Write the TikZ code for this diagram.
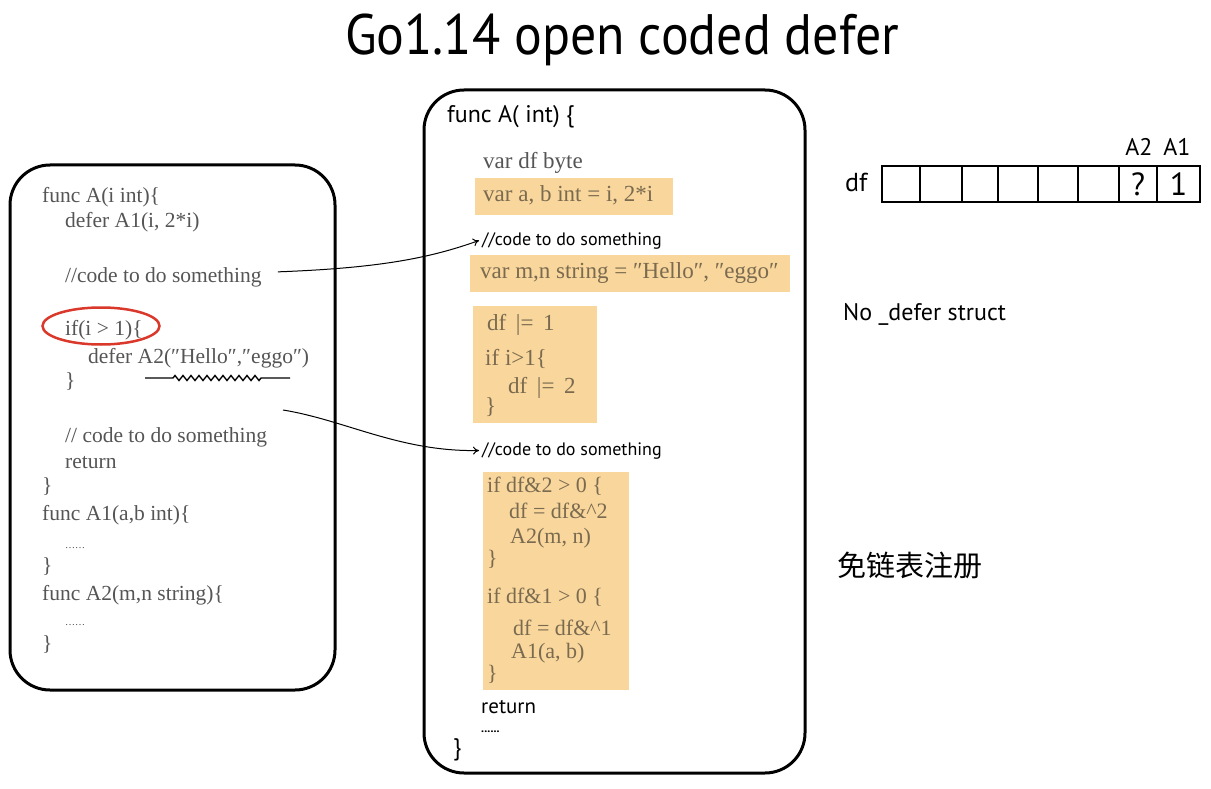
\documentclass[tikz,border=0pt]{standalone}
\usepackage{fontspec}
\setmainfont{Liberation Serif}
\newfontfamily\hw{PT Sans}
\newfontfamily\cjk{Noto Sans CJK SC}
\usetikzlibrary{arrows.meta,decorations.pathmorphing,shapes.geometric}
\definecolor{codegray}{HTML}{555555}
\definecolor{hl}{HTML}{F8D69C}
\definecolor{hltext}{HTML}{7A6A4F}
\definecolor{circ}{HTML}{D9382B}
\begin{document}
\begin{tikzpicture}[x=1pt,y=-1pt,
  lc/.style={anchor=base west, inner sep=0pt, font=\fontsize{21.5}{21.5}\selectfont, text=codegray},
  mc/.style={anchor=base west, inner sep=0pt, font=\fontsize{23}{23}\selectfont, text=codegray},
  hc/.style={anchor=base west, inner sep=0pt, font=\fontsize{23}{23}\selectfont, text=hltext},
  hc4/.style={anchor=base west, inner sep=0pt, font=\fontsize{22}{22}\selectfont, text=hltext},
  hand/.style={anchor=base west, inner sep=0pt, font=\hw\fontsize{18}{18}\selectfont},
  dots/.style={anchor=base west, inner sep=0pt, font=\fontsize{10}{10}\selectfont, text=codegray!80!black},
  frame/.style={draw, line width=3pt, rounded corners=40pt, inner sep=0pt},
  hlbox/.style={fill=hl},
  cell/.style={draw, line width=1.2pt, inner sep=0pt, minimum height=36pt},
  arr/.style={-{To[length=6pt,width=8pt]}, line width=1pt}
]
\fill[white] (0,0) rectangle (1211,789);
\useasboundingbox (0,0) rectangle (1211,789);

% title
\node[font=\hw\fontsize{57}{57}\selectfont, anchor=base, inner sep=0pt] (title) at (622,55) {\scalebox{0.91}[1]{Go1.14 open coded defer}};

% left box
\node[frame, minimum width=325pt, minimum height=525pt] (left) at (172.5,427.5) {};
\node[lc] (l1) at (42,203) {func A(i int)\{};
\node[lc] (l2) at (65,228) {defer A1(i, 2*i)};
\node[lc] (l3) at (65,282) {//code to do something};
\node[lc] (l4) at (65,335) {if(i > 1)\{};
\node[lc] (l5) at (88,363) {defer A2(″Hello″,″eggo″)};
\node[lc] (l6) at (65,387) {\}};
\node[lc] (l7) at (65,442) {// code to do something};
\node[lc] (l8) at (65,468) {return};
\node[lc] (l9) at (42,492) {\}};
\node[lc] (l10) at (42,520) {func A1(a,b int)\{};
\node[dots] (l11) at (65,548) {……};
\node[lc] (l12) at (42,572) {\}};
\node[lc] (l13) at (42,600) {func A2(m,n string)\{};
\node[dots] (l14) at (65,625) {……};
\node[lc] (l15) at (42,650) {\}};

\node[draw=circ, line width=2.5pt, ellipse, minimum width=117pt, minimum height=37pt, inner sep=0pt] (ring) at (101,326) {};
\coordinate (w1) at (145,378);
\coordinate (w2) at (173,378);
\coordinate (w3) at (262,378);
\coordinate (w4) at (290,378);
\draw[line width=1.4pt] (w1) -- (w2) decorate[decoration={zigzag,segment length=8pt,amplitude=2.5pt}] {-- (w3)} -- (w4);

% middle box
\node[frame, minimum width=381pt, minimum height=683pt] (mid) at (614.5,431.5) {};
\node[hand, font=\hw\fontsize{24}{24}\selectfont] (m0) at (447,123) {func A( int) \{};
\node[mc] (m1) at (483,168) {var df byte};
\fill[hlbox] (475,178) rectangle (673,215);
\node[hc] (m2) at (483,202) {var a, b int = i, 2*i};
\node[hand] (mc1) at (482,245) {//code to do something};
\fill[hlbox] (470,255) rectangle (790,292);
\node[hc] (m3) at (480,278) {var m,n string = ″Hello″, ″eggo″};
\fill[hlbox] (473,306) rectangle (597,423);
\node[hc] (m4) at (487,330) {df \,|=\, 1};
\node[hc] (m5) at (485,365) {if i>1\{};
\node[hc] (m6) at (508,393) {df \,|=\, 2};
\node[hc] (m7) at (485,413) {\}};
\node[hand] (mc2) at (482,455) {//code to do something};
\fill[hlbox] (483,472) rectangle (629,690);
\node[hc4] (m8) at (487,492) {if df\&2 > 0 \{};
\node[hc4] (m9) at (509,518) {df = df\&\textasciicircum 2};
\node[hc4] (m10) at (510,543) {A2(m, n)};
\node[hc4] (m11) at (487,565) {\}};
\node[hc4] (m12) at (487,603) {if df\&1 > 0 \{};
\node[hc4] (m13) at (513,635) {df = df\&\textasciicircum 1};
\node[hc4] (m14) at (511,658) {A1(a, b)};
\node[hc4] (m15) at (487,680) {\}};
\node[hand, font=\hw\fontsize{21}{21}\selectfont] (m16) at (481,713) {return};
\node[hand, font=\hw\bfseries\fontsize{12}{12}\selectfont] (m17) at (481,732) {......};
\node[hand, font=\hw\fontsize{24}{24}\selectfont] (m18) at (453,755) {\}};

% arrows
\coordinate (s2) at (283,410);
\draw[arr] ([xshift=16pt,yshift=5pt]l3.east) .. controls (380,268) and (430,258) .. ([xshift=-3pt]mc1.west);
\draw[arr] (s2) .. controls (345,420) and (400,452) .. ([xshift=-3pt]mc2.west);

% right side
\node[hand, font=\hw\fontsize{26}{26}\selectfont] (dflab) at (845,192) {df};
\foreach \a/\b [count=\i] in {882/920,920/962,962/998,998/1038,1038/1078,1078/1119,1119/1157,1157/1200}
  \node[cell, minimum width={(\b-\a)*1pt}] (c\i) at ({(\a+\b)/2},184) {};
\node[font=\hw\fontsize{32}{32}\selectfont, inner sep=0pt] (q) at (c7) {?};
\node[font=\hw\fontsize{32}{32}\selectfont, inner sep=0pt] (one) at (c8) {1};
\node[font=\hw\fontsize{24}{24}\selectfont, anchor=base, inner sep=0pt] (a2) at (1139,156) {A2};
\node[font=\hw\fontsize{24}{24}\selectfont, anchor=base, inner sep=0pt] (a1) at (1177,156) {A1};
\node[hand, font=\hw\fontsize{24}{24}\selectfont] (nods) at (843,320) {No \_defer struct};
\node[anchor=west, font=\cjk\fontsize{29}{29}\selectfont, inner sep=0pt] (reg) at (837,566) {免链表注册};
\end{tikzpicture}
\end{document}
